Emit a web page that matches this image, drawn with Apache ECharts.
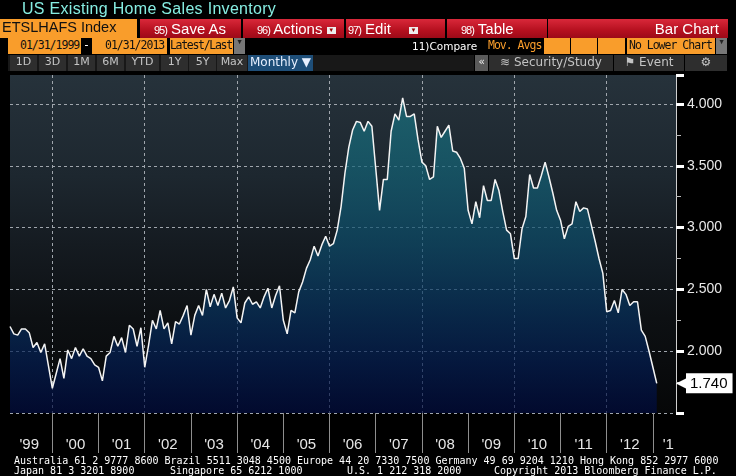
<!DOCTYPE html>
<html><head><meta charset="utf-8">
<script src="https://cdn.jsdelivr.net/npm/echarts@6/dist/echarts.min.js"></script>
<style>
body{margin:0;background:#000;width:736px;height:476px;overflow:hidden;position:relative}
#chart{position:absolute;left:0;top:0;width:736px;height:476px}
.a{position:absolute;white-space:nowrap;box-sizing:border-box;overflow:hidden}
.title{left:22px;top:0;height:18px;line-height:18px;color:#86ede2;font:16px 'Liberation Sans',sans-serif;letter-spacing:0.3px}
.org{background:#f99d2b;color:#111}
.red{background:linear-gradient(#d9283a,#b5101f 60%,#9c0a18);color:#fff;font:15px 'Liberation Sans',sans-serif;line-height:19px;top:19px;height:19px}
.red small{font-size:11px;letter-spacing:-1px}
.dd{display:inline-block;width:9px;height:7px;background:#eee;color:#900;font-size:6px;line-height:7px;text-align:center;vertical-align:middle}
.r3{top:38px;height:16px;line-height:16px;font:11.5px 'DejaVu Sans Mono',monospace;letter-spacing:-1px}
.r4{top:55px;height:16px;line-height:16px;background:#2e2e2e;color:#c4c4c4;font:11px 'DejaVu Sans',sans-serif;text-align:center}
.ft{left:14px;color:#fff;font:10px 'DejaVu Sans Mono',monospace;line-height:10px}
</style></head>
<body>
<div id="chart"></div>
<div class="a title">US Existing Home Sales Inventory</div>
<div class="a org" style="left:0;top:19px;width:137px;height:19px;line-height:19px;padding-left:2px;font:14.5px 'Liberation Sans',sans-serif">ETSLHAFS Index</div>
<div class="a red" style="left:140px;width:101px;padding-left:14px"><small>95)</small> Save As</div>
<div class="a red" style="left:243px;width:101px;padding-left:14px"><small>96)</small> Actions <span class="dd">&#9660;</span></div>
<div class="a red" style="left:346px;width:99px;padding-left:2px"><small>97)</small> Edit <span class="dd" style="margin-left:14px">&#9660;</span></div>
<div class="a red" style="left:447px;width:100px;padding-left:14px"><small>98)</small> Table</div>
<div class="a red" style="left:548px;width:180px;text-align:right;padding-right:9px">Bar Chart</div>
<div class="a r3 org" style="left:8px;width:73px;padding-left:12px">01/31/1999</div>
<div class="a r3" style="left:83px;width:7px;text-align:center;color:#fff;letter-spacing:0">-</div>
<div class="a r3 org" style="left:92px;width:75px;padding-left:13px">01/31/2013</div>
<div class="a r3 org" style="left:170px;width:63px;padding-left:0;letter-spacing:-1.3px">Latest/Last</div>
<div class="a r3" style="left:234px;width:11px;background:#777;color:#222;font-size:7px;text-align:center;letter-spacing:0">&#9660;</div>
<div class="a r3" style="left:412px;width:70px;color:#fff;font:10.5px 'DejaVu Sans',sans-serif;line-height:16px;letter-spacing:0">11)Compare</div>
<div class="a r3" style="left:488px;width:56px;color:#f99d2b">Mov. Avgs</div>
<div class="a r3 org" style="left:544px;width:26px"></div>
<div class="a r3 org" style="left:571px;width:26px"></div>
<div class="a r3 org" style="left:598px;width:27px"></div>
<div class="a r3 org" style="left:627px;width:88px;padding-left:2px">No Lower Chart</div>
<div class="a r3" style="left:716px;width:11px;background:#777;color:#222;font-size:7px;text-align:center;letter-spacing:0">&#9660;</div>
<div class="a" style="left:8px;top:55px;width:466px;height:16px;background:#181818"></div>
<div class="a r4" style="left:10px;width:27px">1D</div>
<div class="a r4" style="left:39px;width:27px">3D</div>
<div class="a r4" style="left:68px;width:27px">1M</div>
<div class="a r4" style="left:97px;width:27px">6M</div>
<div class="a r4" style="left:126px;width:33px">YTD</div>
<div class="a r4" style="left:161px;width:27px">1Y</div>
<div class="a r4" style="left:189px;width:27px">5Y</div>
<div class="a r4" style="left:217px;width:30px">Max</div>
<div class="a r4" style="left:248px;width:65px;background:#1e4e78;color:#e8f0ff;font-size:12px">Monthly &#9660;</div>
<div class="a r4" style="left:475px;width:13px;background:#5a5a5a;color:#eee">&#171;</div>
<div class="a r4" style="left:489px;width:124px;font-size:12px">&#8779; Security/Study</div>
<div class="a r4" style="left:614px;width:70px;font-size:12px">&#9873; Event</div>
<div class="a r4" style="left:685px;width:42px;font-size:12px">&#9881;</div>
<div class="a ft" style="top:456px">Australia 61 2 9777 8600 Brazil 5511 3048 4500 Europe 44 20 7330 7500 Germany 49 69 9204 1210 Hong Kong 852 2977 6000</div>
<div class="a ft" style="top:466px">Japan 81 3 3201 8900</div>
<div class="a ft" style="top:466px;left:170px">Singapore 65 6212 1000</div>
<div class="a ft" style="top:466px;left:347px">U.S. 1 212 318 2000</div>
<div class="a ft" style="top:466px;left:494px">Copyright 2013 Bloomberg Finance L.P.</div>
<script>
// Monthly US existing home sales inventory (millions), Jan 1999 - Jan 2013
const inventory = [
 2.20,2.14,2.13,2.18,2.18,2.15,2.03,2.07,1.99,2.06,1.88,1.70,
 1.82,1.94,1.78,2.01,1.94,2.03,1.96,2.02,1.96,1.94,1.89,1.87,
 1.76,1.96,1.99,2.12,2.04,2.11,1.99,2.21,2.18,2.04,2.19,1.87,
 2.05,2.25,2.18,2.33,2.18,2.23,2.06,2.24,2.22,2.29,2.37,2.13,
 2.29,2.37,2.29,2.50,2.36,2.46,2.37,2.47,2.35,2.41,2.52,2.27,
 2.23,2.39,2.44,2.38,2.40,2.35,2.44,2.51,2.35,2.45,2.53,2.25,
 2.14,2.33,2.31,2.48,2.56,2.67,2.74,2.85,2.77,2.86,2.93,2.85,
 2.87,2.98,3.17,3.44,3.65,3.79,3.86,3.85,3.78,3.86,3.82,3.48,
 3.14,3.39,3.39,3.78,3.92,3.87,4.05,3.90,3.90,3.92,3.71,3.53,
 3.50,3.39,3.41,3.82,3.73,3.78,3.83,3.62,3.61,3.56,3.48,3.14,
 3.03,3.21,3.08,3.34,3.22,3.22,3.39,3.30,3.13,2.98,2.95,2.75,
 2.75,2.99,3.09,3.43,3.32,3.32,3.42,3.53,3.41,3.28,3.14,3.06,
 2.91,3.01,3.03,3.21,3.13,3.16,3.15,3.02,2.89,2.75,2.63,2.32,
 2.33,2.41,2.31,2.50,2.46,2.37,2.40,2.40,2.17,2.12,2.00,1.87,
 1.74
];
const yearLabels = ["'99","'00","'01","'02","'03","'04","'05","'06","'07","'08","'09","'10","'11","'12","'1"];
const months = [];
for (let i = 0; i < 174; i++) {
  const y = 1999 + Math.floor(i / 12), m = i % 12 + 1;
  months.push(y + '-' + (m < 10 ? '0' : '') + m);
}
const seriesData = months.map((_, i) => i < inventory.length ? inventory[i] : null);
const lastVal = inventory[inventory.length - 1];

const chart = echarts.init(document.getElementById('chart'));
chart.setOption({
  backgroundColor: '#000',
  animation: false,
  grid: {
    left: 10, right: 60, top: 75, bottom: 63, show: true, borderWidth: 0,
    backgroundColor: new echarts.graphic.LinearGradient(0, 0, 0, 1, [
      {offset: 0, color: '#26323b'},
      {offset: 0.3, color: '#1d272f'},
      {offset: 0.5, color: '#151b21'},
      {offset: 0.72, color: '#0d1013'},
      {offset: 1, color: '#060708'}
    ])
  },
  xAxis: {
    type: 'category', data: months, boundaryGap: false,
    axisLine: {show: false},
    axisTick: {show: true, interval: (i) => i % 12 === 11, length: 40, lineStyle: {color: '#8e8e8e'}},
    axisLabel: {
      interval: (i) => i % 12 === 5 && i < 168 || i === 171,
      formatter: (v, i) => yearLabels[Math.floor((i + 1) / 12)],
      color: '#e6e6e6', fontFamily: 'Liberation Sans', fontSize: 15, margin: 24
    },
    splitLine: {show: true, interval: (i) => i % 24 === 11, lineStyle: {color: '#a0a6ad', type: [3, 3], width: 1}}
  },
  yAxis: [{
    type: 'value', position: 'right', min: 1.5, max: 4.235, interval: 0.5,
    axisLine: {show: true, lineStyle: {color: '#cfcfcf'}},
    axisTick: {show: true, length: 8, lineStyle: {color: '#ffffff', width: 3}},
    minorTick: {show: true, splitNumber: 2, length: 5, lineStyle: {color: '#bbbbbb'}},
    splitLine: {show: true, showMaxLine: false, lineStyle: {color: '#a0a6ad', type: [3, 3]}},
    axisLabel: {
      formatter: (v) => v.toFixed(3), showMaxLabel: false, showMinLabel: false,
      color: '#e8e8e8', fontFamily: 'Liberation Sans', fontSize: 14, margin: 11
    }
  }, {
    type: 'value', position: 'right', min: 1.5, max: 4.235,
    axisLine: {show: false}, axisTick: {show: false}, splitLine: {show: false},
    axisLabel: {
      customValues: [lastVal], margin: 0,
      formatter: (v) => '{a|\u25C0}{b|' + v.toFixed(3) + '}',
      rich: {
        a: {color: '#ffffff', fontSize: 17, padding: [0, -3, 0, 0]},
        b: {backgroundColor: '#ffffff', color: '#000', fontFamily: 'Liberation Sans', fontSize: 15, padding: [3, 5, 2, 4]}
      }
    }
  }],
  series: [{
    type: 'line', data: seriesData, symbol: 'none', connectNulls: false,
    lineStyle: {color: '#f4f4f4', width: 1.5},
    areaStyle: {
      origin: 'start',
      color: new echarts.graphic.LinearGradient(0, 75, 0, 413, [
        {offset: 0, color: '#1c7884'},
        {offset: 0.25, color: '#156678'},
        {offset: 0.5, color: '#0d4d6c'},
        {offset: 0.7, color: '#07325f'},
        {offset: 0.85, color: '#031d52'},
        {offset: 1, color: '#000b3e'}
      ], true)
    },
    z: 1
  }]
});
</script>
</body></html>
